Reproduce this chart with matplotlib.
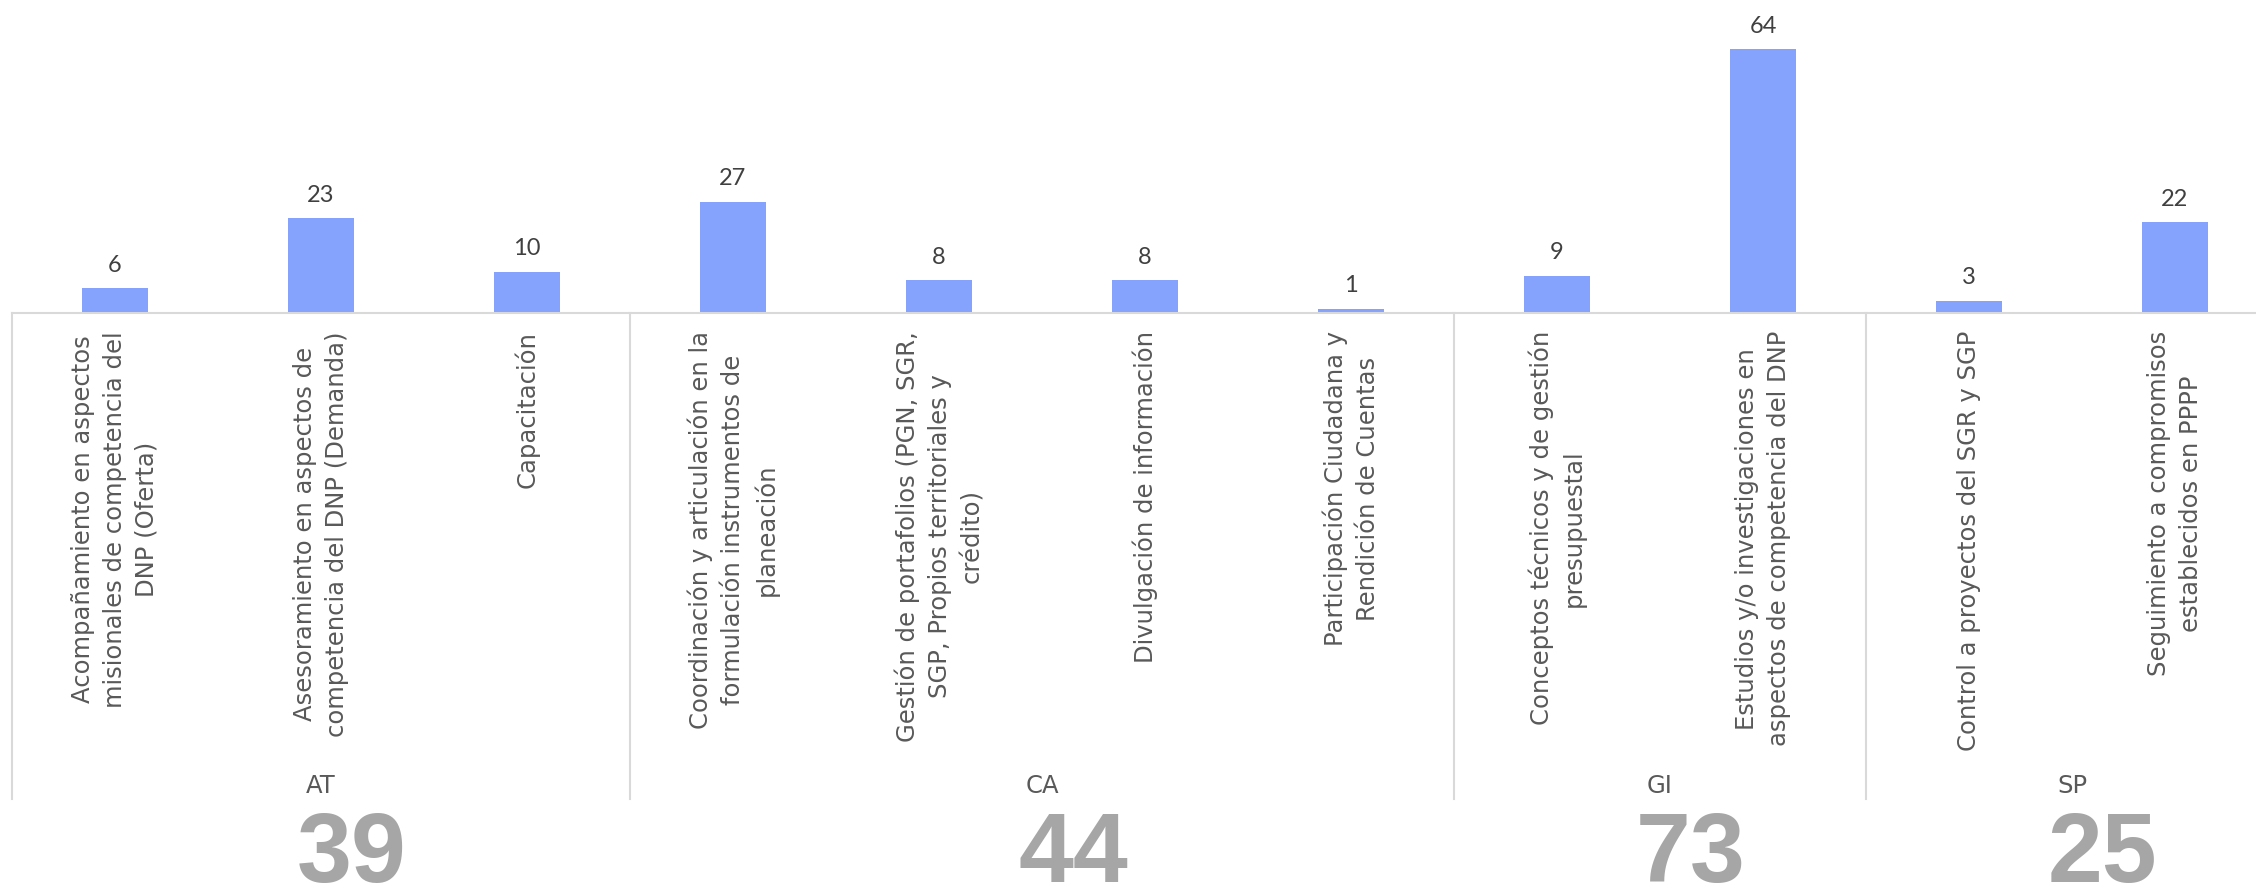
import matplotlib.pyplot as plt
from matplotlib.lines import Line2D
import matplotlib.transforms as mtransforms

labels = [
    "Acompañamiento en aspectos\nmisionales de competencia del\nDNP (Oferta)",
    "Asesoramiento en aspectos de\ncompetencia del DNP (Demanda)",
    "Capacitación",
    "Coordinación y articulación en la\nformulación instrumentos de\nplaneación",
    "Gestión de portafolios (PGN, SGR,\nSGP, Propios territoriales y\ncrédito)",
    "Divulgación de información",
    "Participación Ciudadana y\nRendición de Cuentas",
    "Conceptos técnicos y de gestión\npresupuestal",
    "Estudios y/o investigaciones en\naspectos de competencia del DNP",
    "Control a proyectos del SGR y SGP",
    "Seguimiento a compromisos\nestablecidos en PPPP",
]
values = [6, 23, 10, 27, 8, 8, 1, 9, 64, 3, 22]
groups = ["AT", "CA", "GI", "SP"]
group_sizes = [3, 4, 2, 2]
group_totals = [39, 44, 73, 25]

plt.rcParams['font.family'] = ['DejaVu Sans']

W, H = 2256, 892
fig = plt.figure(figsize=(W / 100, H / 100), dpi=100)
# the plot area runs a little past the right edge of the image
ax = fig.add_axes([12 / W, 1 - 313 / H, 11 * 206 / W, 313 / H])

x = list(range(len(values)))
ax.bar(x, values, width=0.32, color="#85a2fc", zorder=2)
for xi, v in zip(x, values):
    ax.annotate(str(v), (xi, v), xytext=(0, 9), textcoords="offset points",
                ha="center", va="bottom", fontsize=17, color="#404040",
                family=["Lato", "DejaVu Sans"])

ax.set_xlim(-0.5, len(values) - 0.5)
ax.set_ylim(0, 76)
ax.set_yticks([])
ax.set_xticks(x)
ax.set_xticklabels(labels, rotation=90, fontsize=17.5, color="#595959",
                   multialignment="center", linespacing=1.42)
ax.tick_params(axis="x", length=0, pad=13)
for s in ["top", "left", "right"]:
    ax.spines[s].set_visible(False)
ax.spines["bottom"].set_color("#d9d9d9")
ax.spines["bottom"].set_linewidth(1.5)

# group separators, labels and totals
trans = mtransforms.blended_transform_factory(ax.transData, fig.transFigure)
y_top = 1 - 313 / H
y_bot = 1 - 799 / H
start = 0
for g, n, tot in zip(groups, group_sizes, group_totals):
    left = start - 0.5
    fig.add_artist(Line2D([left, left], [y_top, y_bot], transform=trans,
                          color="#d9d9d9", lw=1.5))
    center = start + (n - 1) / 2
    fig.text(center, 1 - 793 / H, g, transform=trans, ha="center",
             va="baseline", fontsize=17.5, color="#595959")
    fig.text(center + 0.15, 1 - 882 / H, str(tot), transform=trans,
             ha="center", va="baseline", fontsize=71, fontweight="bold",
             color="#a6a6a6", family=["Liberation Sans", "DejaVu Sans"])
    start += n

fig.savefig("out.png", dpi=100)
